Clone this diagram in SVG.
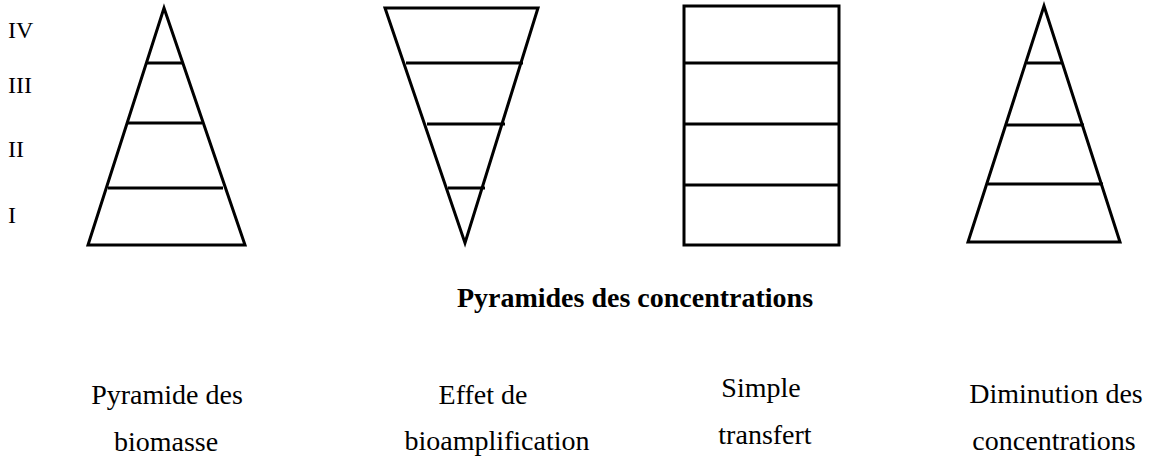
<svg xmlns="http://www.w3.org/2000/svg" width="1152" height="461" viewBox="0 0 1152 461">
<style>
.s{fill:none;stroke:#000;stroke-width:3;stroke-linejoin:miter}
.t{font-family:"Liberation Serif","Times New Roman",serif;font-size:28px;fill:#000}
.r{font-family:"Liberation Serif","Times New Roman",serif;font-size:24px;fill:#000}
.b{font-family:"Liberation Serif","Times New Roman",serif;font-size:28px;font-weight:bold;fill:#000}
</style>
<rect width="1152" height="461" fill="#fff"/>
<g id="levels">
<text class="r" x="8" y="38">IV</text>
<text class="r" x="8" y="93">III</text>
<text class="r" x="8" y="157">II</text>
<text class="r" x="8" y="223">I</text>
</g>
<g id="pyramid-biomasse">
<polygon class="s" points="164,8 245,245 88,245"/>
<line class="s" x1="147" y1="63" x2="182" y2="63"/>
<line class="s" x1="128" y1="123" x2="202" y2="123"/>
<line class="s" x1="108" y1="188" x2="223" y2="188"/>
</g>
<g id="pyramid-bioamplification">
<polygon class="s" points="385,8 538,8 465,243"/>
<line class="s" x1="406" y1="63" x2="523" y2="63"/>
<line class="s" x1="427" y1="124" x2="505" y2="124"/>
<line class="s" x1="448" y1="188" x2="485" y2="188"/>
</g>
<g id="rect-transfert">
<rect class="s" x="684" y="6" width="155" height="239"/>
<line class="s" x1="684" y1="63" x2="839" y2="63"/>
<line class="s" x1="684" y1="124" x2="839" y2="124"/>
<line class="s" x1="684" y1="185" x2="839" y2="185"/>
</g>
<g id="pyramid-diminution">
<polygon class="s" points="1044,6 1120,242 968,242"/>
<line class="s" x1="1027" y1="63" x2="1063" y2="63"/>
<line class="s" x1="1007" y1="125" x2="1084" y2="125"/>
<line class="s" x1="988" y1="184" x2="1103" y2="184"/>
</g>
<g id="connectors"></g>
<g id="title">
<text class="b" x="635" y="307" text-anchor="middle">Pyramides des concentrations</text>
</g>
<g id="labels">
<text class="t" x="167" y="404" text-anchor="middle">Pyramide des</text>
<text class="t" x="166" y="451" text-anchor="middle">biomasse</text>
<text class="t" x="483" y="404" text-anchor="middle">Effet de</text>
<text class="t" x="497" y="450" text-anchor="middle">bioamplification</text>
<text class="t" x="761" y="397" text-anchor="middle">Simple</text>
<text class="t" x="765" y="444" text-anchor="middle">transfert</text>
<text class="t" x="1056" y="403" text-anchor="middle">Diminution des</text>
<text class="t" x="1054" y="450" text-anchor="middle">concentrations</text>
</g>
</svg>
